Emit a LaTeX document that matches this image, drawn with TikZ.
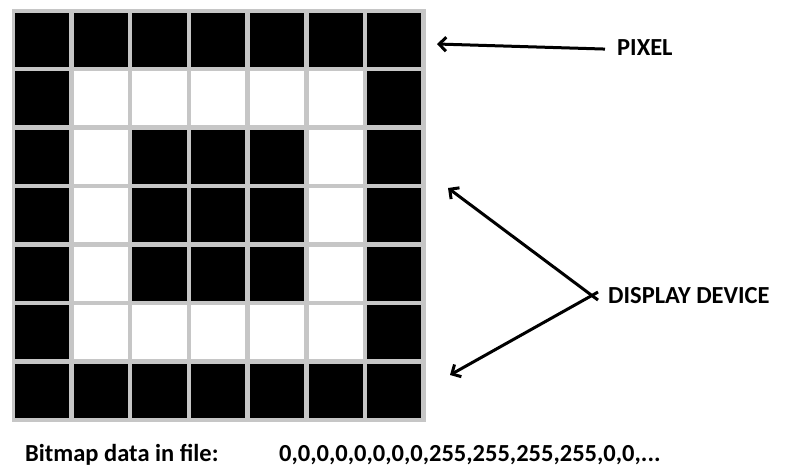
\documentclass[tikz,border=0pt]{standalone}
\usepackage{fontspec}
\setmainfont{Carlito}
\usetikzlibrary{arrows.meta}
\begin{document}
\begin{tikzpicture}[x=1pt,y=-1pt,
    cell/.style={draw=none,minimum size=54.2pt,inner sep=0pt},
    lbl/.style={inner sep=0pt,anchor=base west,font=\fontsize{24.5}{29}\selectfont\bfseries},
    ptr/.style={line width=3pt,-{Straight Barb[length=7pt,width=14pt,line width=3pt]}}]
    \useasboundingbox (0,0) rectangle (788,467);
    \fill[gray!45] (11.5,9) rectangle (425.5,421.5);
    \foreach \r in {0,...,6}
        \foreach \c in {0,...,6} {
            \pgfmathtruncatemacro\ink{(\r==0||\r==6||\c==0||\c==6||(\r>1&&\r<5&&\c>1&&\c<5))?100:0}
            \node[cell,fill=black!\ink] (p\r\c) at (42.1+58.7*\c,39.6+58.5*\r) {};
        }
    \node[lbl] (pixel) at (617,55) {PIXEL};
    \node[lbl] (device) at (608,303) {DISPLAY DEVICE};
    \node[lbl] (bitmap) at (25,461) {Bitmap data in file:};
    \node[lbl] (data) at (279,461) {0,0,0,0,0,0,0,0,255,255,255,255,0,0,...};
    \coordinate (pixtip) at (437,44);
    \coordinate (uptip) at (448,188);
    \coordinate (lowtip) at (450,375);
    \draw[ptr] ([xshift=-12pt,yshift=-2pt]pixel.west) -- (pixtip);
    \draw[ptr] ([xshift=-10pt,yshift=-5pt]device.west) -- (uptip);
    \draw[ptr] ([xshift=-10pt,yshift=3pt]device.west) -- (lowtip);
\end{tikzpicture}
\end{document}
